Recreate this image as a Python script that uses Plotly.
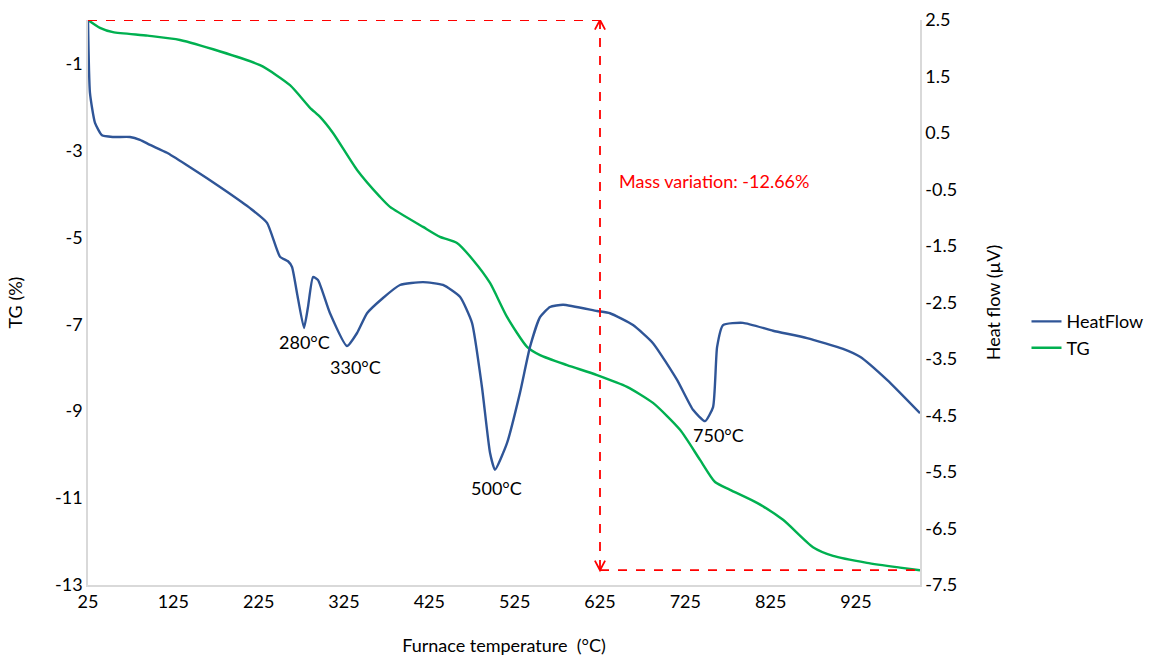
import plotly.graph_objects as go

# ---- data ----
hf_temp = [25, 27.3, 33.2, 41.4, 54.3, 74.2, 85.9, 97.7, 117.6, 141.0, 164.5, 187.9, 214.9, 234.8,
           250.0, 259.4, 264.1, 269.9, 278.1, 282.8, 288.7, 294.5, 308.6, 328.5, 340.3, 352.0,
           370.7, 390.6, 417.6, 441.0, 460.9, 475.0, 486.7, 496.1, 501.9, 516.0, 531.2, 542.9,
           554.7, 566.4, 581.7, 621.5, 636.7, 663.7, 687.1, 715.3, 734.0, 748.1, 757.5, 762.2,
           769.2, 792.6, 827.8, 867.6, 909.8, 929.7, 961.4, 1000]
hf_value = [2.5, 1.21, 0.68, 0.46, 0.43, 0.43, 0.38, 0.29, 0.15, -0.07, -0.30, -0.54, -0.83, -1.09,
            -1.69, -1.77, -1.87, -2.33, -2.95, -2.58, -2.05, -2.10, -2.69, -3.27, -3.04, -2.69,
            -2.42, -2.19, -2.14, -2.19, -2.40, -2.86, -4.00, -5.16, -5.46, -4.99, -4.10, -3.29,
            -2.76, -2.58, -2.54, -2.65, -2.69, -2.90, -3.22, -3.87, -4.40, -4.60, -4.35, -3.29,
            -2.90, -2.86, -3.00, -3.13, -3.32, -3.46, -3.87, -4.46]

tg_temp = [25, 39, 54.3, 95, 132.8, 226.6, 261.7, 285.2, 296.9, 312.1, 340.3, 367.2, 378.9, 417.6,
           437.5, 457.4, 476.2, 496.1, 516.0, 539.5, 554.7, 586.4, 621.5, 656.7, 687.1, 718.8,
           742.2, 759.8, 777.4, 809.0, 839.5, 874.6, 898.1, 937.9, 976.6, 1000]
tg_value = [0, -0.18, -0.28, -0.36, -0.46, -1.04, -1.50, -2.02, -2.23, -2.60, -3.45, -4.07, -4.30,
            -4.76, -4.99, -5.13, -5.52, -6.05, -6.83, -7.52, -7.71, -7.94, -8.17, -8.44, -8.81,
            -9.43, -10.12, -10.63, -10.81, -11.11, -11.50, -12.13, -12.33, -12.49, -12.60, -12.66]

peak_labels = ["280°C", "330°C", "500°C", "750°C"]
peak_temp = [279, 339, 504, 764]
peak_label_hf = [-3.20, -3.64, -5.78, -4.85]

mass_start = 0.0
mass_end = -12.66
marker_temp = 625
x_end = 1000
mass_text = "Mass variation: -12.66%"
mass_text_temp = 645
mass_text_tg = -3.70

x_ticks = [25, 125, 225, 325, 425, 525, 625, 725, 825, 925]
tg_ticks = [-13, -11, -9, -7, -5, -3, -1]
hf_ticks = [2.5, 1.5, 0.5, -0.5, -1.5, -2.5, -3.5, -4.5, -5.5, -6.5, -7.5]

BLUE = "#2F5597"
GREEN = "#00B050"
RED = "#FF0000"
FONT = "Lato"
FS = 18

fig = go.Figure()
fig.add_trace(go.Scatter(x=hf_temp, y=hf_value, name="HeatFlow", yaxis="y2", mode="lines",
                         line=dict(color=BLUE, width=2.4, shape="spline", smoothing=0.5)))
fig.add_trace(go.Scatter(x=tg_temp, y=tg_value, name="TG", mode="lines",
                         line=dict(color=GREEN, width=2.4, shape="spline", smoothing=0.6)))

dash = dict(color=RED, width=1.8, dash="dash")
fig.add_shape(type="line", xref="x", yref="y", x0=tg_temp[0], y0=mass_start, x1=marker_temp, y1=mass_start, line=dash)
fig.add_shape(type="line", xref="x", yref="y", x0=marker_temp, y0=mass_start, x1=marker_temp, y1=mass_end, line=dash)
fig.add_shape(type="line", xref="x", yref="y", x0=marker_temp, y0=mass_end, x1=x_end, y1=mass_end, line=dash)
# arrow heads (open chevrons)
ah_dx = 6
ah_dy = 0.22
fig.add_shape(type="path", xref="x", yref="y",
              path=f"M {marker_temp-ah_dx},{mass_start-ah_dy} L {marker_temp},{mass_start} L {marker_temp+ah_dx},{mass_start-ah_dy}",
              line=dict(color=RED, width=1.8))
fig.add_shape(type="path", xref="x", yref="y",
              path=f"M {marker_temp-ah_dx},{mass_end+ah_dy} L {marker_temp},{mass_end} L {marker_temp+ah_dx},{mass_end+ah_dy}",
              line=dict(color=RED, width=1.8))

fig.add_annotation(x=mass_text_temp, y=mass_text_tg, xref="x", yref="y", text=mass_text,
                   showarrow=False, xanchor="left", font=dict(color=RED, size=FS, family=FONT))
for lab, t, v in zip(peak_labels, peak_temp, peak_label_hf):
    fig.add_annotation(x=t, y=v, xref="x", yref="y2", text=lab, showarrow=False,
                       font=dict(color="#000000", size=FS, family=FONT))

axis_font = dict(family=FONT, size=FS, color="#000000")
fig.update_layout(
    width=1157, height=659,
    margin=dict(l=88, r=237, t=20, b=74, autoexpand=False),
    paper_bgcolor="white", plot_bgcolor="white",
    font=dict(family=FONT, size=FS, color="#000000"),
    showlegend=True,
    legend=dict(x=1.128, y=0.443, xanchor="left", yanchor="middle", font=axis_font,
                bgcolor="rgba(0,0,0,0)", tracegroupgap=4, itemwidth=30),
    xaxis=dict(range=[25, 1000], tickvals=x_ticks, showgrid=False, zeroline=False,
               showline=True, linecolor="#D9D9D9", linewidth=1.5, ticks="",
               tickfont=axis_font,
               title=dict(text="Furnace temperature  (°C)", font=axis_font, standoff=28)),
    yaxis=dict(range=[-13, 0], tickvals=tg_ticks, ticktext=[f"{v:g}" for v in tg_ticks],
               showgrid=False, zeroline=False,
               showline=True, linecolor="#D9D9D9", linewidth=1.5, ticks="",
               tickfont=axis_font, title=dict(text="TG (%)", font=axis_font, standoff=28)),
    yaxis2=dict(range=[-7.5, 2.5], tickvals=hf_ticks, ticktext=[f"{v:.1f}" for v in hf_ticks],
                overlaying="y", side="right",
                showgrid=False, zeroline=False, showline=True, linecolor="#D9D9D9",
                linewidth=1.5, ticks="", tickfont=axis_font,
                title=dict(text="Heat flow (µV)", font=axis_font, standoff=31)),
)

fig.write_html("out.html", config={"displayModeBar": False})
with open("out.html", "r", encoding="utf-8") as f:
    html = f.read()
html = html.replace("<head>", "<head><style>html,body{margin:0;padding:0;}</style>", 1)
with open("out.html", "w", encoding="utf-8") as f:
    f.write(html)
